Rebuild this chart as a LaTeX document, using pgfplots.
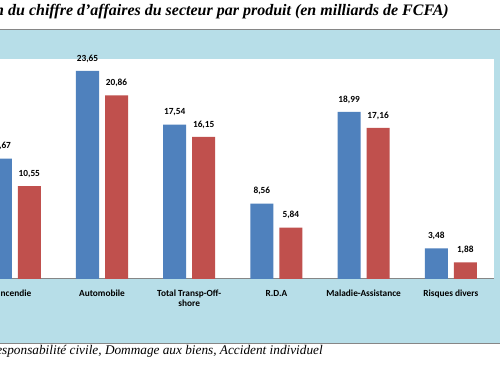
\documentclass[border=0pt]{standalone}
\usepackage{fontspec}
\setmainfont{Liberation Serif}
\newfontfamily\carlito{Carlito}
\usepackage{pgfplots}
\pgfplotsset{compat=1.18}
\definecolor{bandblue}{RGB}{183,222,232}
\definecolor{barblue}{RGB}{79,129,189}
\definecolor{barred}{RGB}{192,80,77}
\definecolor{linegray}{RGB}{134,134,134}
\begin{document}
\begin{tikzpicture}[x=0.75pt,y=0.75pt]
\useasboundingbox (0,0) rectangle (500,366);
\clip (0,0) rectangle (500,366);
\fill[bandblue] (-5,22) rectangle (505,336.5);
\draw[linegray, line width=0.75pt] (-5,22) -- (505,22);
\draw[linegray, line width=0.75pt] (-5,336.5) -- (505,336.5);
\node[anchor=base east, inner sep=0pt, font=\fontsize{12}{14}\selectfont\bfseries\itshape] at (449,350) {Évolution du chiffre d’affaires du secteur par produit (en milliards de FCFA)};
\node[anchor=base east, inner sep=0pt, font=\fontsize{9.95}{12}\selectfont\itshape] at (323,11) {Autres : Responsabilité civile, Dommage aux biens, Accident individuel};
\begin{axis}[
  at={(-21.6pt,65.25pt)}, anchor=south west,
  scale only axis, width=392.4pt, height=165pt,
  xmin=-0.5, xmax=5.5, ymin=0, ymax=25,
  enlarge x limits=false,
  axis x line=bottom, axis y line=none,
  axis line style={-, draw=linegray, line width=0.75pt},
  axis background/.style={fill=white},
  ybar=4.5pt, bar width=17.25pt,
  xtick={0,1,2,3,4,5},
  xticklabels={Incendie, Automobile, {Total Transp-Off-\\shore}, R.D.A, Maladie-Assistance, Risques divers},
  xtick style={draw=none},
  major tick length=0pt,
  xticklabel style={align=center, anchor=north, inner sep=0pt, yshift=-8.3pt, font=\carlito\bfseries\fontsize{7}{7.2}\selectfont},
  /pgf/number format/assume math mode=true,
  nodes near coords={\pgfmathprintnumber[fixed,fixed zerofill,precision=2,use comma]{\pgfplotspointmeta}},
  every node near coord/.append style={anchor=base, yshift=7.3pt, text=black, font=\carlito\bfseries\fontsize{7}{8}\selectfont},
  clip=false,
]
\addplot[fill=barblue, draw=none] coordinates {(0,13.67) (1,23.65) (2,17.54) (3,8.56) (4,18.99) (5,3.48)};
\addplot[fill=barred, draw=none] coordinates {(0,10.55) (1,20.86) (2,16.15) (3,5.84) (4,17.16) (5,1.88)};
\end{axis}
\end{tikzpicture}
\end{document}
